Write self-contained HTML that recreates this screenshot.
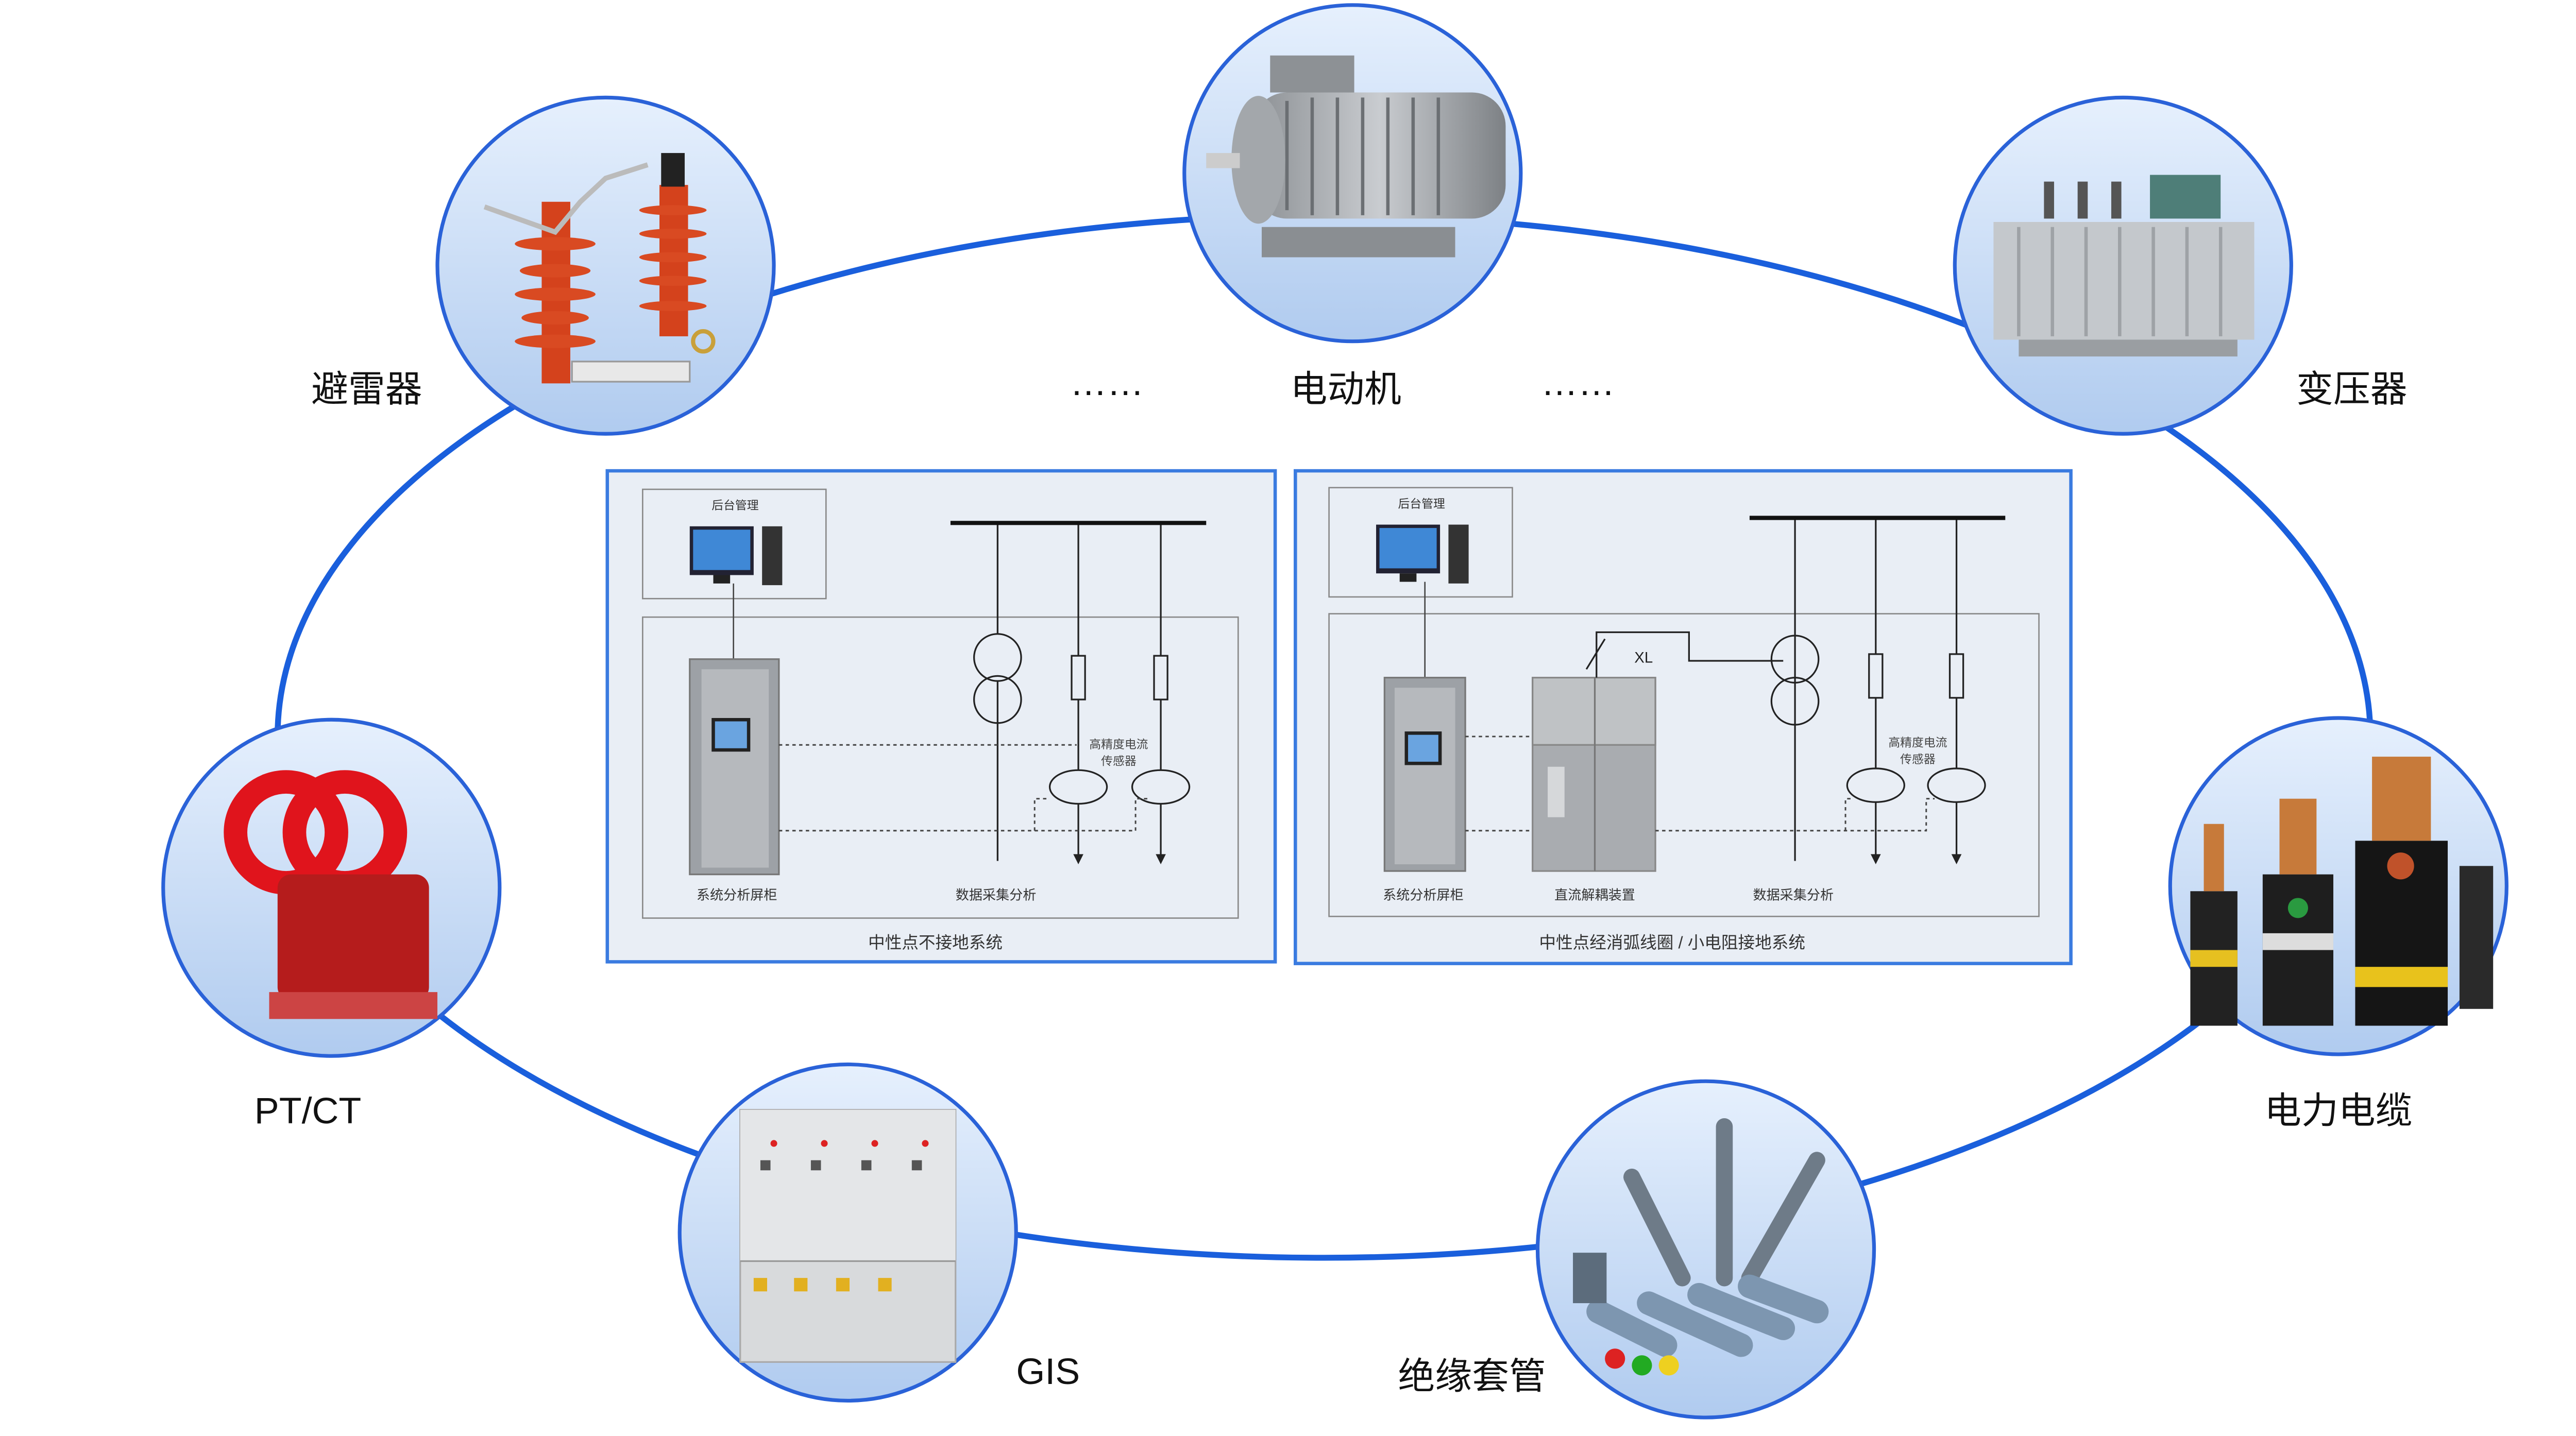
<!DOCTYPE html>
<html><head><meta charset="utf-8">
<style>
html,body{margin:0;padding:0;background:#fff;}
svg{display:block;}
text{font-family:"Liberation Sans","Noto Sans CJK SC",sans-serif;}
</style></head>
<body>
<svg width="5120" height="2788" viewBox="0 0 1568 854" preserveAspectRatio="none" xmlns="http://www.w3.org/2000/svg">
<defs>
<linearGradient id="cg" x1="0" y1="0" x2="0" y2="1">
<stop offset="0" stop-color="#e6f0fd"/><stop offset="1" stop-color="#b0cbef"/>
</linearGradient>
<linearGradient id="grey" x1="0" y1="0" x2="1" y2="0">
<stop offset="0" stop-color="#8c9094"/><stop offset="0.5" stop-color="#c9ccd0"/><stop offset="1" stop-color="#7d8185"/>
</linearGradient>
</defs>
<rect width="1568" height="854" fill="#fff"/>
<ellipse cx="787" cy="438" rx="622" ry="310" fill="none" stroke="#1a5fdc" stroke-width="3.5"/>

<g stroke="#2a62d8" stroke-width="2.2" fill="url(#cg)">
<circle cx="360" cy="158" r="100"/>
<circle cx="804" cy="103" r="100"/>
<circle cx="1262" cy="158" r="100"/>
<circle cx="197" cy="528" r="100"/>
<circle cx="1390" cy="527" r="100"/>
<circle cx="504" cy="733" r="100"/>
<circle cx="1014" cy="743" r="100"/>
</g>

<g>
<rect x="322" y="120" width="17" height="108" fill="#d4421c"/>
<g fill="#d94a22"><ellipse cx="330" cy="145" rx="24" ry="4"/><ellipse cx="330" cy="161" rx="21" ry="4"/><ellipse cx="330" cy="175" rx="24" ry="4"/><ellipse cx="330" cy="189" rx="20" ry="4"/><ellipse cx="330" cy="203" rx="24" ry="4"/></g>
<rect x="392" y="110" width="17" height="90" fill="#d4421c"/>
<g fill="#d94a22"><ellipse cx="400" cy="125" rx="20" ry="3"/><ellipse cx="400" cy="139" rx="20" ry="3"/><ellipse cx="400" cy="153" rx="20" ry="3"/><ellipse cx="400" cy="167" rx="20" ry="3"/><ellipse cx="400" cy="182" rx="20" ry="3"/></g>
<rect x="393" y="91" width="14" height="20" fill="#222"/>
<path d="M288 123 L330 138 L345 120 L360 106 L385 98" stroke="#bbb" stroke-width="3" fill="none"/>
<rect x="340" y="215" width="70" height="12" fill="#e8e8e8" stroke="#999"/>
<circle cx="418" cy="203" r="6" fill="none" stroke="#c9a03a" stroke-width="2.5"/>
</g>

<g>
<rect x="745" y="55" width="150" height="75" rx="20" fill="url(#grey)"/>
<g stroke="#6b6f73" stroke-width="2">
<line x1="765" y1="60" x2="765" y2="125"/><line x1="780" y1="58" x2="780" y2="128"/><line x1="795" y1="58" x2="795" y2="128"/><line x1="810" y1="58" x2="810" y2="128"/><line x1="825" y1="58" x2="825" y2="128"/><line x1="840" y1="58" x2="840" y2="128"/><line x1="855" y1="58" x2="855" y2="128"/>
</g>
<ellipse cx="748" cy="95" rx="16" ry="38" fill="#a3a7ab"/>
<rect x="717" y="91" width="20" height="9" fill="#ccc"/>
<rect x="755" y="33" width="50" height="22" fill="#8d9195"/>
<rect x="750" y="135" width="115" height="18" fill="#8a8e92"/>
</g>

<g>
<rect x="1185" y="132" width="155" height="70" fill="#c4c8cc"/>
<g stroke="#9ea2a6" stroke-width="2"><line x1="1200" y1="135" x2="1200" y2="200"/><line x1="1220" y1="135" x2="1220" y2="200"/><line x1="1240" y1="135" x2="1240" y2="200"/><line x1="1260" y1="135" x2="1260" y2="200"/><line x1="1280" y1="135" x2="1280" y2="200"/><line x1="1300" y1="135" x2="1300" y2="200"/><line x1="1320" y1="135" x2="1320" y2="200"/></g>
<rect x="1278" y="104" width="42" height="26" fill="#4e7e78"/>
<g fill="#555"><rect x="1215" y="108" width="6" height="22"/><rect x="1235" y="108" width="6" height="22"/><rect x="1255" y="108" width="6" height="22"/></g>
<rect x="1200" y="202" width="130" height="10" fill="#9a9ea2"/>
</g>

<g>
<circle cx="170" cy="495" r="30" fill="none" stroke="#e0141c" stroke-width="14"/>
<circle cx="205" cy="495" r="30" fill="none" stroke="#e0141c" stroke-width="14"/>
<rect x="165" y="520" width="90" height="75" rx="8" fill="#b51c1c"/>
<rect x="160" y="590" width="100" height="16" fill="#c44"/>
</g>

<g>
<rect x="1302" y="530" width="28" height="80" fill="#222"/><rect x="1302" y="565" width="28" height="10" fill="#e6c020"/>
<rect x="1345" y="520" width="42" height="90" fill="#1e1e1e"/><rect x="1345" y="555" width="42" height="10" fill="#ddd"/>
<rect x="1400" y="500" width="55" height="110" fill="#151515"/><rect x="1400" y="575" width="55" height="12" fill="#e8c21c"/>
<rect x="1462" y="515" width="20" height="85" fill="#2a2a2a"/>
<g fill="#c77a3a"><rect x="1310" y="490" width="12" height="40"/><rect x="1355" y="475" width="22" height="45"/><rect x="1410" y="450" width="35" height="50"/></g>
<circle cx="1366" cy="540" r="6" fill="#2a9a40"/><circle cx="1427" cy="515" r="8" fill="#c0522a"/>
</g>

<g>
<rect x="440" y="660" width="128" height="150" fill="#d8dadc" stroke="#aaa"/>
<rect x="440" y="660" width="128" height="90" fill="#e4e6e8"/>
<line x1="440" y1="750" x2="568" y2="750" stroke="#999"/>
<g fill="#555"><rect x="452" y="690" width="6" height="6"/><rect x="482" y="690" width="6" height="6"/><rect x="512" y="690" width="6" height="6"/><rect x="542" y="690" width="6" height="6"/></g>
<g fill="#e2b020"><rect x="448" y="760" width="8" height="8"/><rect x="472" y="760" width="8" height="8"/><rect x="497" y="760" width="8" height="8"/><rect x="522" y="760" width="8" height="8"/></g>
<g fill="#d22"><circle cx="460" cy="680" r="2"/><circle cx="490" cy="680" r="2"/><circle cx="520" cy="680" r="2"/><circle cx="550" cy="680" r="2"/></g>
</g>

<g stroke-linecap="round">
<g stroke="#6e7b88" stroke-width="10"><line x1="970" y1="700" x2="1000" y2="760"/><line x1="1025" y1="670" x2="1025" y2="760"/><line x1="1080" y1="690" x2="1040" y2="760"/></g>
<g stroke="#7d96b0" stroke-width="14"><line x1="950" y1="780" x2="990" y2="800"/><line x1="980" y1="775" x2="1035" y2="800"/><line x1="1010" y1="770" x2="1060" y2="790"/><line x1="1040" y1="765" x2="1080" y2="780"/></g>
<rect x="935" y="745" width="20" height="30" fill="#5c6c7c" stroke="none"/>
<circle cx="960" cy="808" r="6" fill="#d22" stroke="none"/><circle cx="976" cy="812" r="6" fill="#2a2" stroke="none"/><circle cx="992" cy="812" r="6" fill="#eed020" stroke="none"/>
</g>

<g font-size="22" fill="#111" text-anchor="middle">
<text x="218" y="239">避雷器</text>
<text x="800" y="239">电动机</text>
<text x="1398" y="239">变压器</text>
<text x="183" y="668">PT/CT</text>
<text x="1390" y="668">电力电缆</text>
<text x="623" y="823">GIS</text>
<text x="875" y="826">绝缘套管</text>
<text x="658" y="235">……</text>
<text x="938" y="235">……</text>
</g>

<rect x="361" y="280" width="397" height="292" fill="#e9eef5" stroke="#3a7be0" stroke-width="2"/>
<rect x="382" y="291" width="109" height="65" fill="none" stroke="#888" stroke-width="0.8"/>
<rect x="382" y="367" width="354" height="179" fill="none" stroke="#888" stroke-width="0.8"/>
<text x="437" y="303" font-size="7" text-anchor="middle" fill="#333">后台管理</text>
<rect x="410" y="313" width="38" height="29" fill="#223" /><rect x="412" y="315" width="34" height="24" fill="#3f88d6"/>
<rect x="424" y="342" width="10" height="5" fill="#222"/>
<rect x="453" y="313" width="12" height="35" fill="#333"/>
<line x1="436" y1="347" x2="436" y2="392" stroke="#444" stroke-width="0.8"/>
<rect x="410" y="392" width="53" height="128" fill="#9da1a6" stroke="#777"/>
<rect x="417" y="398" width="40" height="118" fill="#b6b9bd"/>
<rect x="423" y="427" width="23" height="20" fill="#222"/><rect x="425" y="429" width="19" height="16" fill="#6aa4e0"/>
<line x1="593" y1="311" x2="593" y2="512" stroke="#222" stroke-width="1"/>
<line x1="641" y1="311" x2="641" y2="510" stroke="#222" stroke-width="1"/>
<line x1="690" y1="311" x2="690" y2="510" stroke="#222" stroke-width="1"/>
<line x1="565" y1="311" x2="717" y2="311" stroke="#111" stroke-width="2.5"/>
<circle cx="593" cy="391" r="14" fill="#e9eef5" stroke="#222"/><circle cx="593" cy="416" r="14" fill="none" stroke="#222"/>
<rect x="637" y="390" width="8" height="26" fill="#e9eef5" stroke="#222"/><rect x="686" y="390" width="8" height="26" fill="#e9eef5" stroke="#222"/>
<ellipse cx="641" cy="468" rx="17" ry="10" fill="#e9eef5" stroke="#222"/><ellipse cx="690" cy="468" rx="17" ry="10" fill="#e9eef5" stroke="#222"/>
<path d="M638 508 L641 514 L644 508Z M687 508 L690 514 L693 508Z" fill="#222"/>
<g stroke="#444" stroke-width="0.9" stroke-dasharray="2,2" fill="none">
<path d="M463 443 H640"/><path d="M463 494 H675 V475 H683"/><path d="M615 494 V475 H624"/>
</g>
<text x="665" y="445" font-size="7" text-anchor="middle" fill="#444">高精度电流</text>
<text x="665" y="455" font-size="7" text-anchor="middle" fill="#444">传感器</text>
<text x="438" y="535" font-size="8" text-anchor="middle" fill="#333">系统分析屏柜</text>
<text x="592" y="535" font-size="8" text-anchor="middle" fill="#333">数据采集分析</text>
<text x="556" y="564" font-size="10" text-anchor="middle" fill="#333">中性点不接地系统</text>

<rect x="770" y="280" width="461" height="293" fill="#e9eef5" stroke="#3a7be0" stroke-width="2"/>
<rect x="790" y="290" width="109" height="65" fill="none" stroke="#888" stroke-width="0.8"/>
<rect x="790" y="365" width="422" height="180" fill="none" stroke="#888" stroke-width="0.8"/>
<text x="845" y="302" font-size="7" text-anchor="middle" fill="#333">后台管理</text>
<rect x="818" y="312" width="38" height="29" fill="#223"/><rect x="820" y="314" width="34" height="24" fill="#3f88d6"/>
<rect x="832" y="341" width="10" height="5" fill="#222"/>
<rect x="861" y="312" width="12" height="35" fill="#333"/>
<line x1="847" y1="346" x2="847" y2="403" stroke="#444" stroke-width="0.8"/>
<rect x="823" y="403" width="48" height="115" fill="#9da1a6" stroke="#777"/>
<rect x="829" y="409" width="36" height="105" fill="#b6b9bd"/>
<rect x="835" y="435" width="22" height="20" fill="#222"/><rect x="837" y="437" width="18" height="16" fill="#6aa4e0"/>
<rect x="911" y="403" width="73" height="115" fill="#a9acb0" stroke="#888"/>
<rect x="911" y="403" width="73" height="40" fill="#bfc2c5" stroke="#888"/>
<line x1="948" y1="403" x2="948" y2="518" stroke="#777"/>
<rect x="920" y="456" width="10" height="30" fill="#d6d8da"/>
<path d="M949 403 V376 H1004 V393 H1060" stroke="#222" stroke-width="1" fill="none"/>
<line x1="943" y1="398" x2="954" y2="380" stroke="#222"/>
<text x="977" y="394" font-size="9" text-anchor="middle" fill="#222">XL</text>
<line x1="1067" y1="308" x2="1067" y2="512" stroke="#222" stroke-width="1"/>
<line x1="1115" y1="308" x2="1115" y2="510" stroke="#222" stroke-width="1"/>
<line x1="1163" y1="308" x2="1163" y2="510" stroke="#222" stroke-width="1"/>
<line x1="1040" y1="308" x2="1192" y2="308" stroke="#111" stroke-width="2.5"/>
<circle cx="1067" cy="392" r="14" fill="none" stroke="#222"/><circle cx="1067" cy="417" r="14" fill="none" stroke="#222"/>
<rect x="1111" y="389" width="8" height="26" fill="#e9eef5" stroke="#222"/><rect x="1159" y="389" width="8" height="26" fill="#e9eef5" stroke="#222"/>
<ellipse cx="1115" cy="467" rx="17" ry="10" fill="#e9eef5" stroke="#222"/><ellipse cx="1163" cy="467" rx="17" ry="10" fill="#e9eef5" stroke="#222"/>
<path d="M1112 508 L1115 514 L1118 508Z M1160 508 L1163 514 L1166 508Z" fill="#222"/>
<g stroke="#444" stroke-width="0.9" stroke-dasharray="2,2" fill="none">
<path d="M871 438 H911"/><path d="M871 494 H911"/><path d="M984 494 H1145 V475 H1150"/><path d="M1097 494 V475 H1101"/>
</g>
<text x="1140" y="444" font-size="7" text-anchor="middle" fill="#444">高精度电流</text>
<text x="1140" y="454" font-size="7" text-anchor="middle" fill="#444">传感器</text>
<text x="846" y="535" font-size="8" text-anchor="middle" fill="#333">系统分析屏柜</text>
<text x="948" y="535" font-size="8" text-anchor="middle" fill="#333">直流解耦装置</text>
<text x="1066" y="535" font-size="8" text-anchor="middle" fill="#333">数据采集分析</text>
<text x="994" y="564" font-size="10" text-anchor="middle" fill="#333">中性点经消弧线圈 / 小电阻接地系统</text>
</svg>
</body></html>
